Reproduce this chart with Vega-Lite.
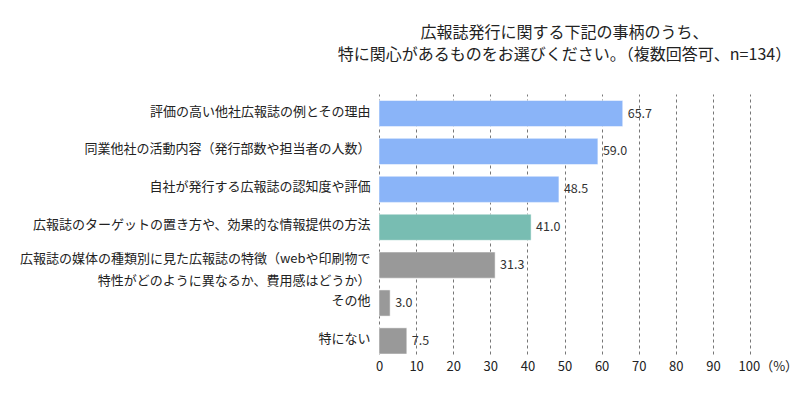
{
  "$schema": "https://vega.github.io/schema/vega-lite/v6.json",
  "autosize": {"type": "none"},
  "width": 371,
  "height": 260,
  "padding": {"left": 379, "top": 94, "right": 50, "bottom": 45},
  "background": "white",
  "config": {
    "view": {"stroke": null},
    "font": "Noto Sans CJK JP"
  },
  "title": {
    "text": ["広報誌発行に関する下記の事柄のうち、", "特に関心があるものをお選びください。（複数回答可、n=134）"],
    "fontSize": 16,
    "fontWeight": "normal",
    "color": "#222222",
    "lineHeight": 22,
    "anchor": "middle",
    "frame": "group",
    "offset": 31,
    "font": "Noto Sans CJK JP"
  },
  "data": {
    "values": [
      {"label": "評価の高い他社広報誌の例とその理由", "value": 65.7, "group": "a"},
      {"label": "同業他社の活動内容（発行部数や担当者の人数）", "value": 59.0, "group": "a"},
      {"label": "自社が発行する広報誌の認知度や評価", "value": 48.5, "group": "a"},
      {"label": "広報誌のターゲットの置き方や、効果的な情報提供の方法", "value": 41.0, "group": "b"},
      {"label": "広報誌の媒体の種類別に見た広報誌の特徴（webや印刷物で|特性がどのように異なるか、費用感はどうか）", "value": 31.3, "group": "c"},
      {"label": "その他", "value": 3.0, "group": "c"},
      {"label": "特にない", "value": 7.5, "group": "c"}
    ]
  },
  "encoding": {
    "y": {
      "field": "label",
      "type": "nominal",
      "sort": null,
      "scale": {"paddingInner": 0.31, "paddingOuter": 0.085, "align": 1},
      "axis": {
        "title": null,
        "domain": false,
        "ticks": false,
        "labelPadding": 9,
        "labelFontSize": 13,
        "labelColor": "#222222",
        "labelLimit": 400,
        "labelLineHeight": 22,
        "labelExpr": "split(datum.label, '|')",
        "labelOffset": {"condition": {"test": "indexof(datum.value, '|') >= 0", "value": -6}, "value": -2}
      }
    },
    "x": {
      "field": "value",
      "type": "quantitative",
      "scale": {"domain": [0, 100], "nice": false},
      "axis": {
        "title": null,
        "values": [0, 10, 20, 30, 40, 50, 60, 70, 80, 90, 100],
        "domain": false,
        "ticks": false,
        "grid": true,
        "gridDash": [3, 3],
        "gridColor": "#777777",
        "gridWidth": 1,
        "labelFontSize": 13,
        "labelColor": "#222222",
        "labelPadding": 6,
        "labelExpr": "datum.value == 100 ? '100（%）' : datum.label",
        "labelAlign": {"condition": {"test": "datum.value == 100", "value": "left"}, "value": "center"},
        "labelOffset": {"condition": {"test": "datum.value == 100", "value": -12}, "value": 0}
      }
    }
  },
  "layer": [
    {
      "mark": {"type": "bar", "stroke": "white", "strokeWidth": 1, "strokeOpacity": 0.5},
      "encoding": {
        "color": {
          "field": "group",
          "type": "nominal",
          "scale": {"domain": ["a", "b", "c"], "range": ["#8AB4F8", "#78BDB2", "#999999"]},
          "legend": null
        }
      }
    },
    {
      "mark": {"type": "text", "align": "left", "baseline": "middle", "dx": 5, "fontSize": 12.5, "color": "#333333"},
      "encoding": {
        "text": {"field": "value", "type": "quantitative", "format": ".1f"}
      }
    }
  ]
}
